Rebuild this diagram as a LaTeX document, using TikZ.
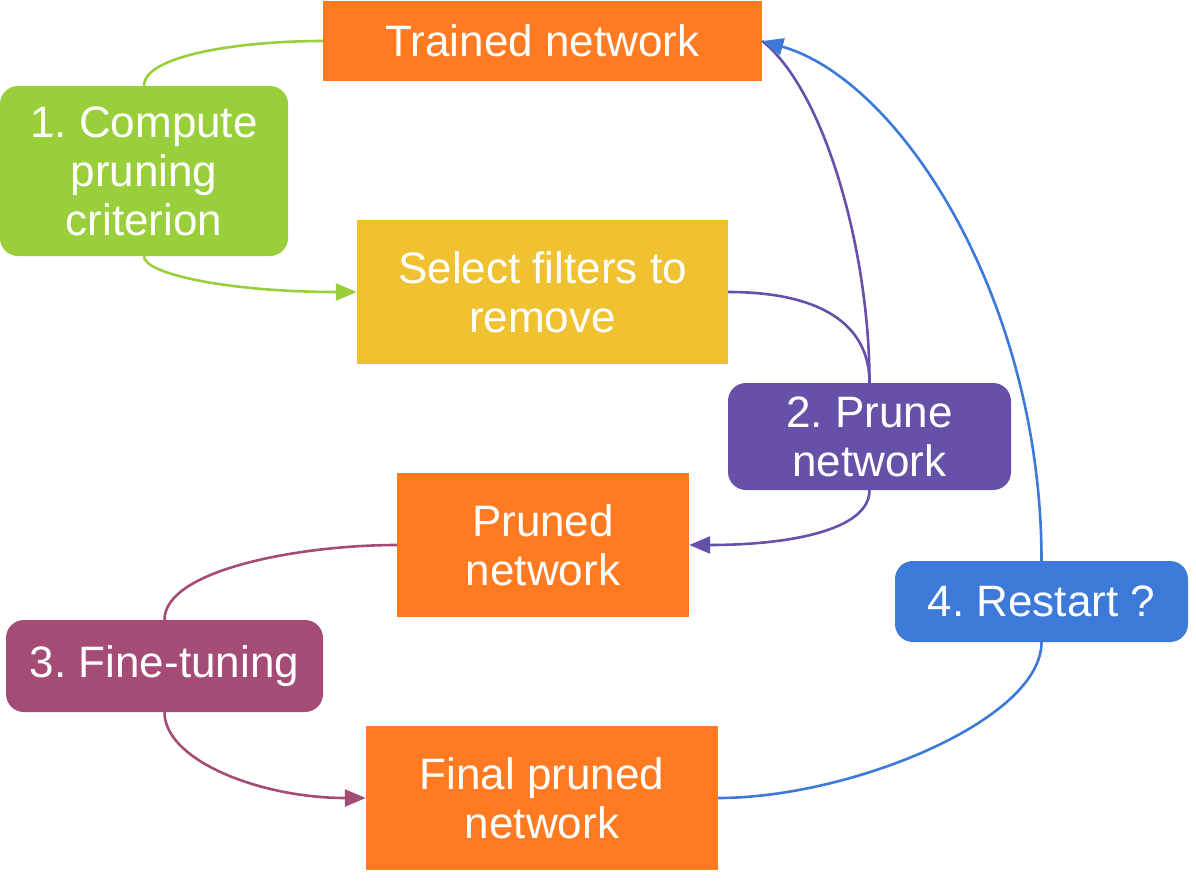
\documentclass[tikz,border=0pt]{standalone}
\usepackage{fontspec}
\setmainfont{Liberation Sans}
\usetikzlibrary{arrows.meta}
\definecolor{corange}{HTML}{FF7A21}
\definecolor{cgreen}{HTML}{9ACF3C}
\definecolor{cyellow}{HTML}{F0C232}
\definecolor{cpurple}{HTML}{6750A7}
\definecolor{cmaroon}{HTML}{A54C76}
\definecolor{cblue}{HTML}{3C79D8}
\frenchspacing
\begin{document}
\begin{tikzpicture}[x=1pt,y=-1pt,
  box/.style={inner sep=0pt, text=white, align=center, font=\fontsize{44}{49}\selectfont},
  rbox/.style={box, rounded corners=18pt},
  conn/.style={line width=2.6pt},
  tip/.style={-{Triangle[length=21pt,width=17pt]}}]
\useasboundingbox (0,0) rectangle (1196,881);

\node[box, fill=corange, minimum width=439pt, minimum height=80pt] (t) at (542.5,41) {Trained network};
\node[rbox, fill=cgreen, minimum width=288pt, minimum height=170pt] (c) at (144,171) {1. Compute\\pruning\\criterion};
\node[box, fill=cyellow, minimum width=371pt, minimum height=144pt] (s) at (542.5,292) {Select filters to\\remove};
\node[rbox, fill=cpurple, minimum width=283pt, minimum height=107pt] (p) at (869.5,436.5) {2. Prune\\network};
\node[box, fill=corange, minimum width=292pt, minimum height=144pt] (pd) at (543,545) {Pruned\\network};
\node[rbox, fill=cmaroon, minimum width=317pt, minimum height=92pt] (ft) at (164.5,666) {3. Fine-tuning};
\node[box, fill=corange, minimum width=352pt, minimum height=144pt] (f) at (542,798) {Final pruned\\network};
\node[rbox, fill=cblue, minimum width=293pt, minimum height=81pt] (r) at (1041.5,601.5) {4. Restart ?};

\draw[conn, cgreen] (c.north) .. controls +(0,-30) and +(-85,0) .. (t.west);
\draw[conn, cgreen, tip] (c.south) .. controls +(0,18) and +(-127,0) .. (s.west);
\draw[conn, cpurple] (s.east) .. controls +(90,0) and +(0,-60) .. (p.north);
\draw[conn, cpurple] (p.north) .. controls +(0,-133) and +(62,49) .. (t.east);
\draw[conn, cpurple, tip] (p.south) .. controls +(0,40) and +(100,0) .. (pd.east);
\draw[conn, cmaroon] (pd.west) .. controls +(-97,0) and +(0,-50) .. (ft.north);
\draw[conn, cmaroon, tip] (ft.south) .. controls +(0,48) and +(-106,0) .. (f.west);
\draw[conn, cblue] (f.east) .. controls +(132,0) and +(0,78) .. (r.south);
\draw[conn, cblue, tip] (r.north) .. controls +(0,-261) and +(138,39) .. (t.east);
\end{tikzpicture}
\end{document}
